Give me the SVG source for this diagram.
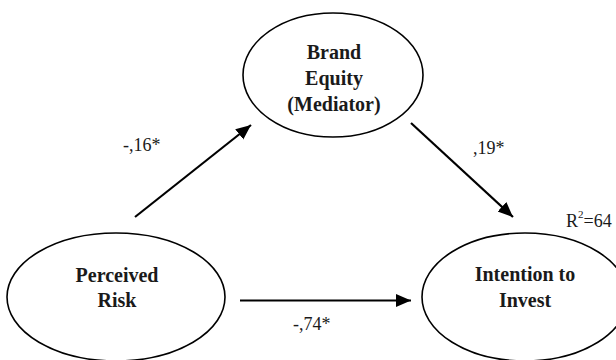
<svg xmlns="http://www.w3.org/2000/svg" width="616" height="360" viewBox="0 0 616 360">
<style>
.node ellipse{fill:#fff;stroke:#000;stroke-width:1.6}
.lbl{font-family:'Liberation Serif','Times New Roman','DejaVu Serif',serif;font-weight:bold;font-size:20px;text-anchor:middle;fill:#1a1a1a}
.coef{font-family:'Liberation Serif','Times New Roman','DejaVu Serif',serif;font-size:18px;fill:#1a1a1a}
.edge{stroke:#000;stroke-width:2.2;fill:none;marker-end:url(#ah)}
</style>
<defs>
<marker id="ah" markerUnits="userSpaceOnUse" markerWidth="16" markerHeight="14" refX="15" refY="6.5" orient="auto">
<path d="M0,0 L15,6.5 L0,13 z" fill="#000"/>
</marker>
</defs>
<rect width="616" height="360" fill="#fff"/>
<g id="connectors">
<line class="edge" x1="135" y1="217" x2="251" y2="125"/>
<line class="edge" x1="411" y1="123" x2="513" y2="217"/>
<line class="edge" x1="240" y1="300.5" x2="411" y2="300.5"/>
</g>
<g id="brand-equity" class="node">
<ellipse cx="333" cy="75" rx="90" ry="62"/>
<text class="lbl" x="334" y="59" font-family="Liberation Serif">Brand</text>
<text class="lbl" x="334" y="85" font-family="Liberation Serif">Equity</text>
<text class="lbl" x="334" y="111" font-family="Liberation Serif">(Mediator)</text>
</g>
<g id="perceived-risk" class="node">
<ellipse cx="116" cy="297" rx="109" ry="64"/>
<text class="lbl" x="117" y="282">Perceived</text>
<text class="lbl" x="117" y="307">Risk</text>
</g>
<g id="intention" class="node">
<ellipse cx="525" cy="297" rx="103" ry="64"/>
<text class="lbl" x="525" y="281">Intention to</text>
<text class="lbl" x="525" y="307">Invest</text>
</g>
<g id="labels">
<text class="coef" x="123" y="151">-,16*</text>
<text class="coef" x="473" y="154">,19*</text>
<text class="coef" x="293" y="330">-,74*</text>
<text class="coef" x="566" y="227">R<tspan font-size="11" dy="-9">2</tspan><tspan dy="9">=64</tspan></text>
</g>
</svg>
